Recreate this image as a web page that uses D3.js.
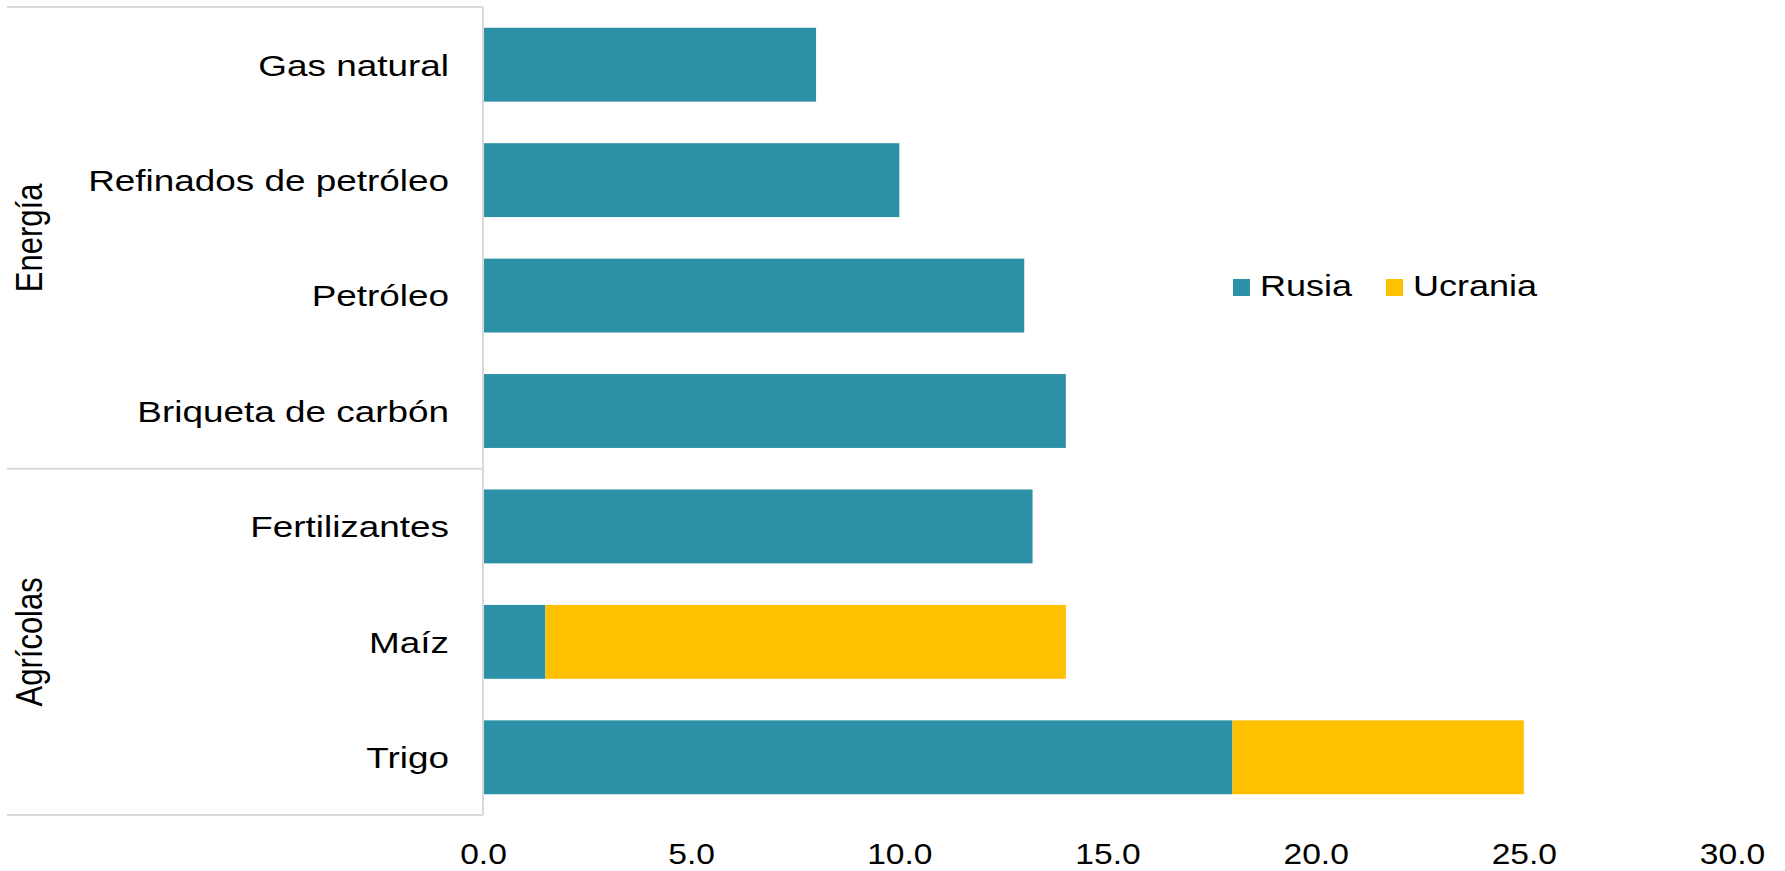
<!DOCTYPE html>
<html>
<head>
<meta charset="utf-8">
<script src="https://cdn.jsdelivr.net/npm/d3@7"></script>
<style>
  html, body { margin: 0; padding: 0; background: #ffffff; }
  svg { display: block; }
  text { font-family: "Liberation Sans", Arial, sans-serif; fill: #000000; }
</style>
</head>
<body>
<svg id="chart" width="1785" height="871"></svg>
<script>
// Products, top to bottom
const categories = [
  "Gas natural",
  "Refinados de petróleo",
  "Petróleo",
  "Briqueta de carbón",
  "Fertilizantes",
  "Maíz",
  "Trigo"
];

// Category groups and how many products each one spans
const groupNames = ["Energía", "Agrícolas"];
const groupSizes = [4, 3];

// Share of world exports (%)
const seriesNames = ["Rusia", "Ucrania"];
const rusia   = [8.0, 10.0, 13.0, 14.0, 13.2, 1.5, 18.0];
const ucrania = [0.0, 0.0, 0.0, 0.0, 0.0, 12.5, 7.0];

const xTicks = [0, 5, 10, 15, 20, 25, 30];

const colors = ["#2C91A7", "#FFC000"];
const gridColor = "#d9d9d9";
const fontSize = 30;
const labelStretch = 1.23;
const groupStretch = 1.2;
const legendStretch = 1.2;
const tickStretch = 1.12;

const svg = d3.select("#chart");

const x = d3.scaleLinear().domain([0, 30]).range([483, 1732]);
const y = d3.scaleBand().domain(categories).range([7, 815])
  .paddingInner(0.36).paddingOuter(0.18);

// Stack the two series
const rows = categories.map((c, i) => ({ cat: c, Rusia: rusia[i], Ucrania: ucrania[i] }));
const stacked = d3.stack().keys(seriesNames)(rows);

svg.append("g").selectAll("g")
  .data(stacked)
  .join("g")
  .attr("fill", (d, i) => colors[i])
  .selectAll("rect")
  .data(d => d.filter(p => p[1] - p[0] > 0))
  .join("rect")
  .attr("x", d => x(d[0]))
  .attr("width", d => x(d[1]) - x(d[0]))
  .attr("y", d => y(d.data.cat))
  .attr("height", y.bandwidth());

// Group frame: horizontal rules at group boundaries and the category axis line
const [y0, y1] = y.range();
const bounds = [0];
groupSizes.forEach(s => bounds.push(bounds[bounds.length - 1] + s));
const boundaryY = bounds.map(b => y0 + b * (y1 - y0) / categories.length);

const frame = svg.append("g").attr("stroke", gridColor).attr("stroke-width", 2);
boundaryY.forEach(by => {
  frame.append("line").attr("x1", 7).attr("x2", x(0)).attr("y1", by).attr("y2", by);
});
frame.append("line").attr("x1", x(0)).attr("x2", x(0)).attr("y1", y0).attr("y2", y1);

// Category labels
svg.append("g").selectAll("text")
  .data(categories)
  .join("text")
  .attr("transform", d => `translate(449,${y(d) + y.bandwidth() / 2 + fontSize * 0.36}) scale(${labelStretch},1)`)
  .attr("text-anchor", "end")
  .attr("font-size", fontSize)
  .text(d => d);

// Group labels, rotated
svg.append("g").selectAll("text")
  .data(groupNames)
  .join("text")
  .attr("transform", (d, i) => `translate(42,${(boundaryY[i] + boundaryY[i + 1]) / 2}) scale(${groupStretch},1) rotate(-90)`)
  .attr("text-anchor", "middle")
  .attr("font-size", 31)
  .text(d => d);

// Value axis
const fmt = d3.format(".1f");
const xAxis = d3.axisBottom(x).tickValues(xTicks).tickFormat(fmt).tickSize(0);
const axisG = svg.append("g").attr("transform", "translate(0,864)").call(xAxis);
axisG.select(".domain").remove();
axisG.selectAll(".tick text")
  .attr("y", 0).attr("dy", 0)
  .attr("font-size", fontSize)
  .attr("font-family", "Liberation Sans, Arial, sans-serif")
  .attr("fill", "#000")
  .attr("transform", `scale(${tickStretch},1)`)
  .attr("x", 0);

// Legend
const legendX = [1233, 1386];
const legend = svg.append("g").selectAll("g")
  .data(seriesNames)
  .join("g")
  .attr("transform", (d, i) => `translate(${legendX[i]},279)`);
legend.append("rect")
  .attr("width", 17).attr("height", 17)
  .attr("fill", (d, i) => colors[i]);
legend.append("text")
  .attr("transform", `translate(27,17) scale(${legendStretch},1)`)
  .attr("font-size", fontSize)
  .text(d => d);
</script>
</body>
</html>
